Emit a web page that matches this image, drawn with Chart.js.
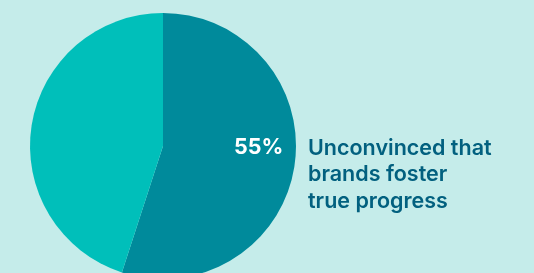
<!DOCTYPE html>
<html>
<head>
<meta charset="utf-8">
<script src="https://cdn.jsdelivr.net/npm/chart.js@4/dist/chart.umd.min.js"></script>
<style>
  html, body { margin: 0; padding: 0; background: #c5ecea; overflow: hidden; }
  #wrap { position: relative; width: 534px; height: 300px; }
  #caption { position: absolute; left: 308px; top: 133.5px; font-family: Inter, sans-serif; font-weight: 600;
    font-size: 21.5px; line-height: 26.5px; color: #02607f; white-space: nowrap; }
</style>
</head>
<body>
<div id="wrap">
  <canvas id="c" width="534" height="300"></canvas>
  <div id="caption">Unconvinced that<br>brands foster<br>true progress</div>
</div>
<script>
const categories = ["Unconvinced that brands foster true progress", "Other"];
const values = [55, 45];
const colors = ["#008a9b", "#00bfba"];
const valueLabels = ["55%", ""];

const labelPlugin = {
  id: 'sliceLabel',
  afterDatasetsDraw(chart) {
    const ctx = chart.ctx;
    const arc = chart.getDatasetMeta(0).data[0];
    const r = arc.outerRadius;
    ctx.save();
    ctx.fillStyle = '#ffffff';
    ctx.font = '700 21.5px Inter, sans-serif';
    ctx.textAlign = 'center';
    ctx.textBaseline = 'alphabetic';
    ctx.fillText(valueLabels[0], arc.x + r * 0.72, arc.y + 8);
    ctx.restore();
  }
};

new Chart(document.getElementById('c'), {
  type: 'pie',
  data: {
    labels: categories,
    datasets: [{ data: values, backgroundColor: colors, borderWidth: 0 }]
  },
  options: {
    responsive: false,
    animation: false,
    layout: { padding: { left: 30, right: 238, top: 13, bottom: 21 } },
    plugins: { legend: { display: false }, tooltip: { enabled: false } }
  },
  plugins: [labelPlugin]
});
</script>
</body>
</html>
